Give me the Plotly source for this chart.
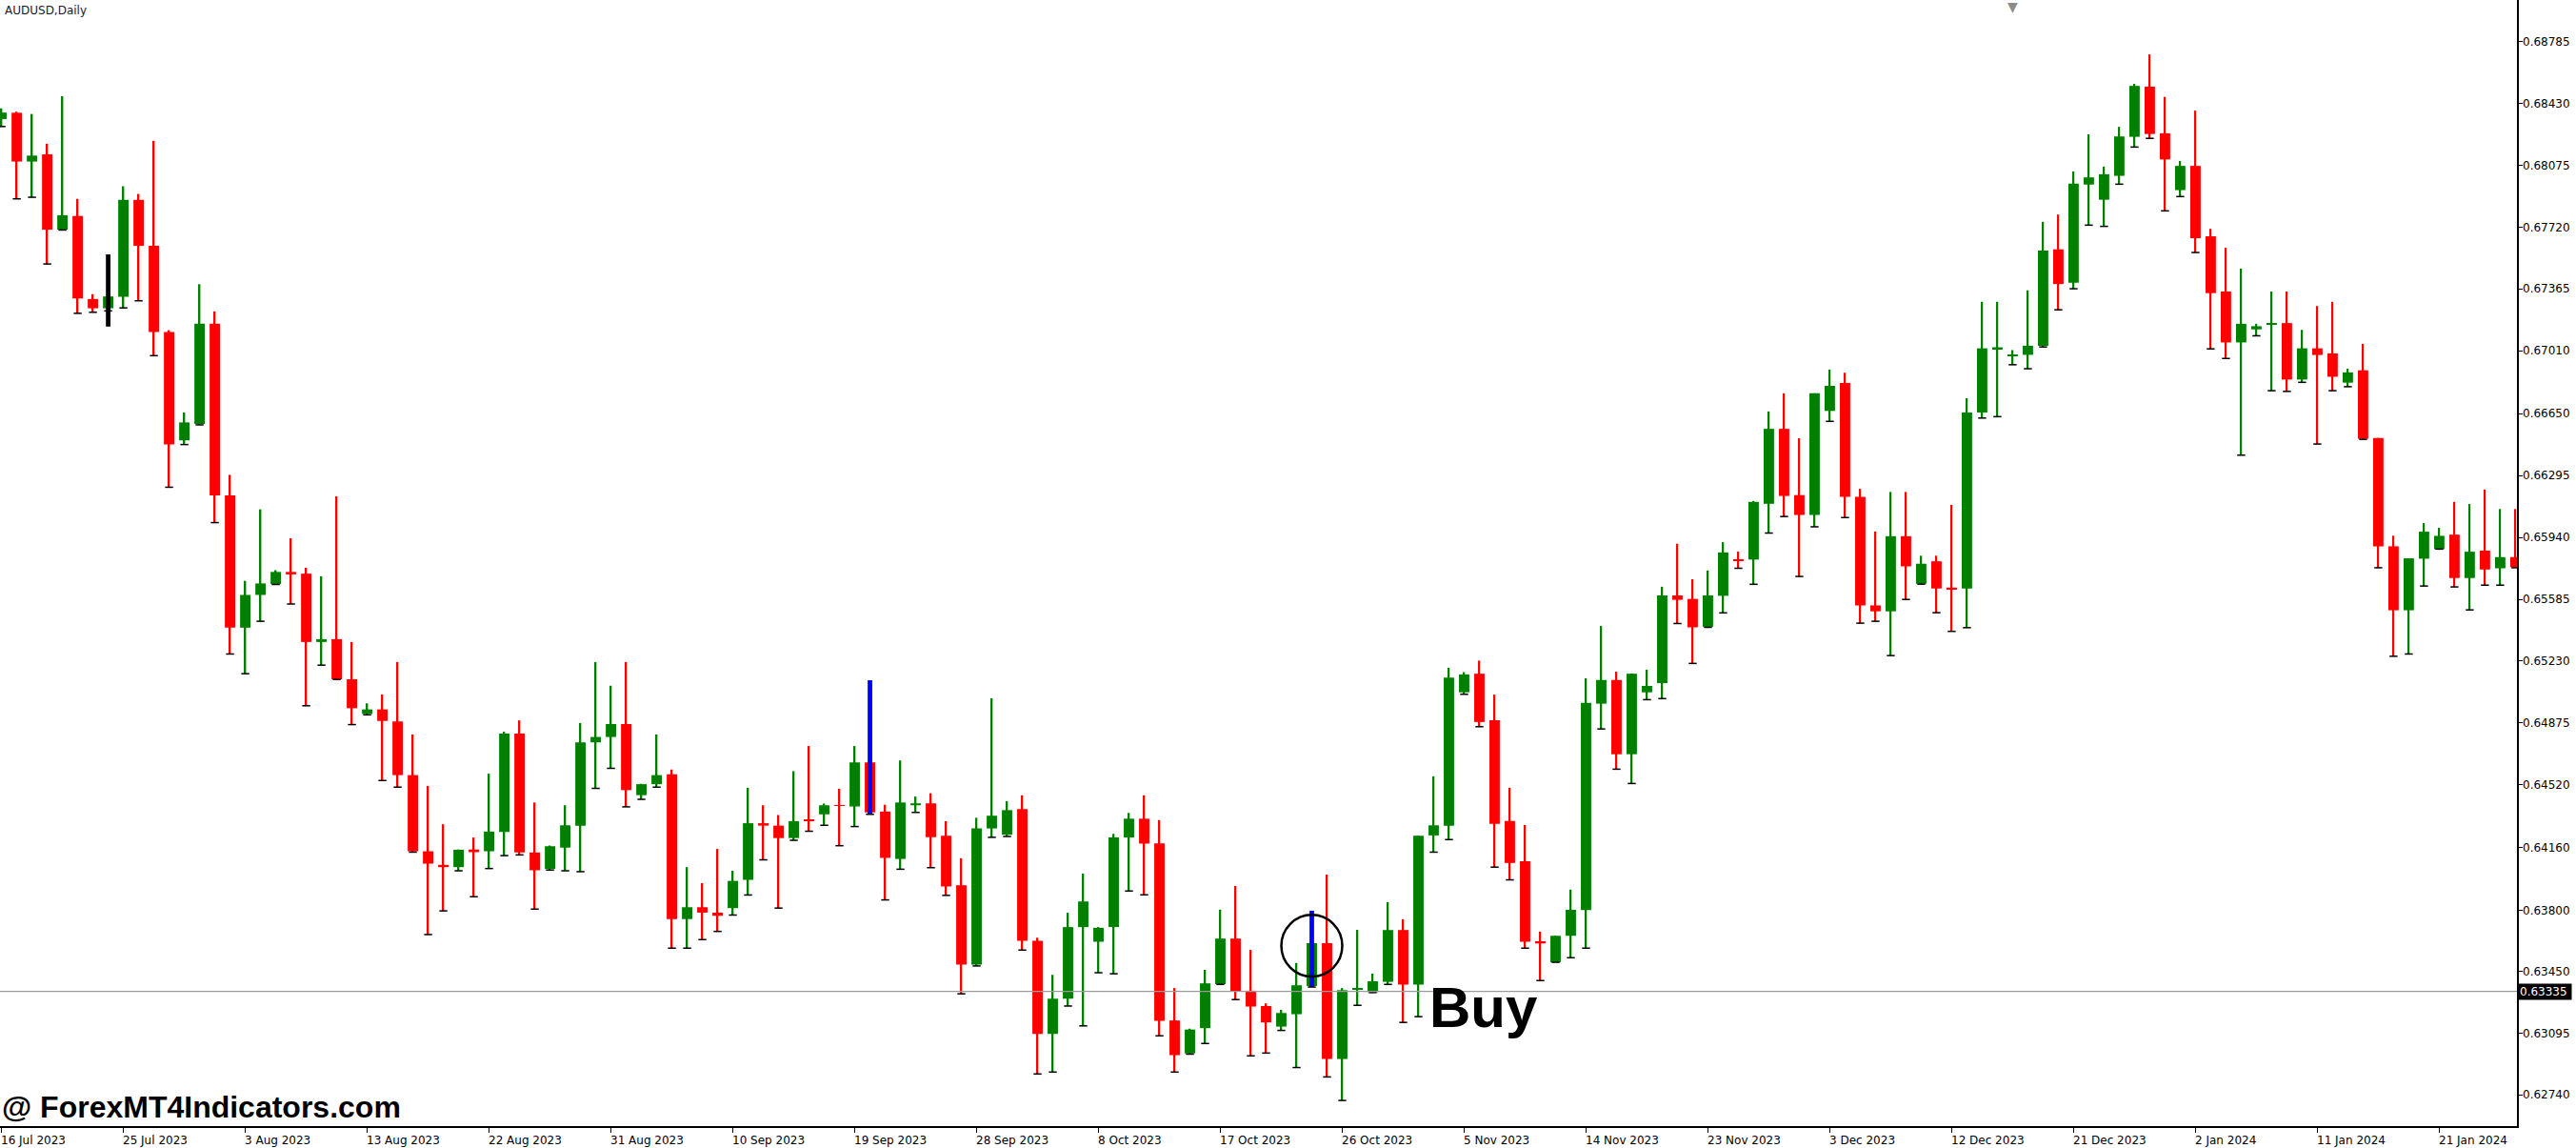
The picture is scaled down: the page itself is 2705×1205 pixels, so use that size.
import plotly.graph_objects as go

opens = [0.68341,0.68377,0.68097,0.68138,0.67706,0.67784,0.67308,0.67255,0.67321,0.67877,
0.67613,0.67119,0.66497,0.66591,0.67166,0.66181,0.65422,0.65610,0.65672,0.65742,
0.65732,0.65340,0.65356,0.65126,0.64927,0.64953,0.64884,0.64576,0.64139,0.64061,
0.64048,0.64149,0.64139,0.64250,0.64814,0.64132,0.64037,0.64160,0.64286,0.64764,
0.64795,0.64869,0.64461,0.64524,0.64581,0.63750,0.63818,0.63787,0.63813,0.63975,
0.64300,0.64286,0.64215,0.64320,0.64351,0.64403,0.64396,0.64649,0.64367,0.64095,
0.64403,0.64414,0.64228,0.63944,0.63489,0.64270,0.64234,0.64381,0.63626,0.63091,
0.63293,0.63704,0.63620,0.63704,0.64218,0.64326,0.64185,0.63168,0.62979,0.63124,
0.63377,0.63638,0.63339,0.63251,0.63133,0.63204,0.63366,0.63612,0.62947,0.63344,
0.63331,0.63390,0.63687,0.63374,0.64230,0.64285,0.65051,0.65158,0.64891,0.64313,
0.64082,0.63623,0.63502,0.63654,0.63801,0.64986,0.65122,0.64696,0.65051,0.65104,
0.65607,0.65587,0.65427,0.65605,0.65815,0.65813,0.66133,0.66563,0.66183,0.66069,
0.66666,0.66826,0.66173,0.65550,0.65516,0.65947,0.65674,0.65803,0.65652,0.65647,
0.66657,0.67022,0.66979,0.66988,0.67040,0.67593,0.67401,0.67965,0.67878,0.68015,
0.68239,0.68527,0.68259,0.67933,0.68072,0.67668,0.67351,0.67059,0.67134,0.67162,
0.67170,0.66846,0.67025,0.66996,0.66828,0.66899,0.66510,0.65889,0.65522,0.65818,
0.65873,0.65956,0.65707,0.65864,0.65763,0.65827]

highs = [0.68402,0.68383,0.68370,0.68199,0.68472,0.67883,0.67336,0.67340,0.67955,0.67911,
0.68216,0.67129,0.66657,0.67393,0.67237,0.66299,0.65691,0.66101,0.65752,0.65935,
0.65766,0.65717,0.66176,0.65340,0.64988,0.65039,0.65225,0.64809,0.64514,0.64294,
0.64149,0.64218,0.64584,0.64825,0.64890,0.64419,0.64172,0.64403,0.64875,0.65225,
0.65089,0.65225,0.64526,0.64809,0.64608,0.64048,0.63956,0.64152,0.64027,0.64503,
0.64403,0.64347,0.64599,0.64743,0.64413,0.64498,0.64743,0.64658,0.64406,0.64660,
0.64453,0.64472,0.64312,0.64099,0.64331,0.65017,0.64427,0.64460,0.63643,0.63430,
0.63786,0.64011,0.63704,0.64239,0.64359,0.64460,0.64318,0.63354,0.63121,0.63459,
0.63804,0.63940,0.63573,0.63266,0.63229,0.63498,0.63612,0.64005,0.63354,0.63688,
0.63437,0.63847,0.63749,0.64228,0.64569,0.65192,0.65167,0.65233,0.65038,0.64503,
0.64290,0.63678,0.63654,0.63919,0.65131,0.65432,0.65170,0.65158,0.65181,0.65657,
0.65904,0.65700,0.65750,0.65913,0.65858,0.66149,0.66663,0.66767,0.66509,0.66767,
0.66903,0.66885,0.66219,0.65974,0.66201,0.66201,0.65835,0.65835,0.66127,0.66739,
0.67292,0.67292,0.67015,0.67358,0.67751,0.67793,0.68040,0.68253,0.68068,0.68296,
0.68543,0.68712,0.68468,0.68100,0.68389,0.67711,0.67602,0.67483,0.67166,0.67351,
0.67351,0.67131,0.67268,0.67292,0.66908,0.67051,0.66511,0.65950,0.65820,0.66022,
0.65995,0.66144,0.66132,0.66215,0.66103,0.66103]

lows = [0.68298,0.67883,0.67892,0.67509,0.67704,0.67226,0.67232,0.67240,0.67257,0.67298,
0.66983,0.66228,0.66473,0.66586,0.66025,0.65271,0.65158,0.65459,0.65670,0.65558,
0.64974,0.65207,0.65125,0.64866,0.64922,0.64545,0.64507,0.64134,0.63661,0.63797,
0.64027,0.63878,0.64040,0.64114,0.64118,0.63807,0.64031,0.64027,0.64022,0.64500,
0.64615,0.64394,0.64437,0.64507,0.63583,0.63583,0.63632,0.63679,0.63773,0.63888,
0.64090,0.63813,0.64202,0.64254,0.64288,0.64171,0.64281,0.64351,0.63860,0.64036,
0.64362,0.64045,0.63886,0.63321,0.63481,0.64219,0.64224,0.63572,0.62861,0.62872,
0.63251,0.63137,0.63442,0.63436,0.63911,0.63889,0.63080,0.62872,0.62975,0.63036,
0.63375,0.63288,0.62965,0.62981,0.63111,0.62898,0.63360,0.62844,0.62709,0.63255,
0.63328,0.63375,0.63157,0.63190,0.64134,0.64206,0.65040,0.64854,0.64048,0.63975,
0.63583,0.63397,0.63502,0.63528,0.63583,0.64841,0.64610,0.64528,0.65009,0.65015,
0.65446,0.65217,0.65424,0.65507,0.65763,0.65671,0.65965,0.66060,0.65716,0.66001,
0.66606,0.66054,0.65448,0.65459,0.65262,0.65584,0.65672,0.65508,0.65401,0.65422,
0.66625,0.66633,0.66931,0.66908,0.67033,0.67246,0.67367,0.67732,0.67725,0.67967,
0.68180,0.68230,0.67814,0.67896,0.67575,0.67022,0.66967,0.66412,0.67097,0.66782,
0.66778,0.66830,0.66476,0.66782,0.66805,0.66503,0.65766,0.65258,0.65271,0.65661,
0.65873,0.65656,0.65524,0.65666,0.65666,0.65766]

closes = [0.68378,0.68097,0.68131,0.67706,0.67789,0.67311,0.67255,0.67323,0.67877,0.67613,
0.67119,0.66473,0.66600,0.67166,0.66181,0.65422,0.65610,0.65676,0.65742,0.65728,
0.65340,0.65356,0.65126,0.64960,0.64953,0.64887,0.64576,0.64139,0.64068,0.64048,
0.64148,0.64134,0.64252,0.64814,0.64132,0.64030,0.64168,0.64288,0.64764,0.64795,
0.64869,0.64490,0.64524,0.64576,0.63750,0.63818,0.63787,0.63769,0.63969,0.64300,
0.64286,0.64215,0.64312,0.64315,0.64403,0.64399,0.64649,0.64362,0.64101,0.64419,
0.64414,0.64220,0.63937,0.63489,0.64271,0.64343,0.64375,0.63626,0.63091,0.63293,
0.63704,0.63851,0.63700,0.64219,0.64326,0.64183,0.63166,0.62969,0.63116,0.63381,
0.63638,0.63335,0.63248,0.63157,0.63211,0.63370,0.63612,0.62947,0.63342,0.63350,
0.63393,0.63687,0.63374,0.64228,0.64288,0.65135,0.65154,0.64881,0.64297,0.64072,
0.63620,0.63610,0.63654,0.63803,0.64991,0.65122,0.64696,0.65158,0.65088,0.65607,
0.65582,0.65424,0.65607,0.65854,0.65807,0.66144,0.66563,0.66178,0.66069,0.66767,
0.66810,0.66173,0.65550,0.65516,0.65947,0.65774,0.65789,0.65647,0.65642,0.66657,
0.67025,0.67031,0.66990,0.67040,0.67586,0.67394,0.67970,0.68006,0.68024,0.68241,
0.68531,0.68255,0.68109,0.68072,0.67657,0.67342,0.67059,0.67166,0.67152,0.67170,
0.66846,0.67025,0.66987,0.66862,0.66887,0.66506,0.65889,0.65522,0.65820,0.65973,
0.65949,0.65707,0.65858,0.65756,0.65827,0.65769]

date_labels = ["16 Jul 2023","25 Jul 2023","3 Aug 2023","13 Aug 2023","22 Aug 2023",
"31 Aug 2023","10 Sep 2023","19 Sep 2023","28 Sep 2023","8 Oct 2023","17 Oct 2023",
"26 Oct 2023","5 Nov 2023","14 Nov 2023","23 Nov 2023","3 Dec 2023","12 Dec 2023",
"21 Dec 2023","2 Jan 2024","11 Jan 2024","21 Jan 2024"]
date_idx = [8 * i for i in range(len(date_labels))]

price_ticks = [0.68785,0.68430,0.68075,0.67720,0.67365,0.67010,0.66650,0.66295,0.65940,
0.65585,0.65230,0.64875,0.64520,0.64160,0.63800,0.63450,0.63095,0.62740]

# indicator signals (bar index, top, bottom, colour)
signals = [(7, 0.67564, 0.67150, "black"), (57, 0.65120, 0.64354, "#0000FF"), (86, 0.63798, 0.63360, "#0000FF")]
buy_bar = 86
price_line = 0.63335

GREEN = "#008000"
RED = "#FF0000"
FONT = "DejaVu Sans"
n = len(opens)
xs = list(range(n))
cols = [GREEN if c > o else RED for o, c in zip(opens, closes)]

fig = go.Figure()
fig.add_trace(go.Bar(x=xs, base=lows, y=[h - l for h, l in zip(highs, lows)], width=0.1,
                     marker=dict(color=cols, line=dict(width=0)), hoverinfo="skip"))
fig.add_trace(go.Scatter(x=xs, y=lows, mode="markers",
                         marker=dict(symbol="line-ew", size=6, line=dict(width=1.5, color="black")),
                         hoverinfo="skip"))
fig.add_trace(go.Bar(x=xs, base=[min(o, c) for o, c in zip(opens, closes)],
                     y=[max(abs(o - c), 0.00005) for o, c in zip(opens, closes)], width=0.68,
                     marker=dict(color=cols, line=dict(width=0))))
for b, top, bot, col in signals:
    fig.add_trace(go.Bar(x=[b], base=[bot], y=[top - bot], width=0.3,
                         marker=dict(color=col, line=dict(width=0))))

fig.add_hline(y=price_line, line=dict(color="#9A9A9A", width=1.2))
cy = closes[buy_bar] - 0.00015
fig.add_shape(type="circle", xref="x", yref="y", x0=buy_bar - 2.0, x1=buy_bar + 2.0,
              y0=cy - 0.00177, y1=cy + 0.00177, line=dict(color="black", width=2.5))

anns = []
for i, t in zip(date_idx, date_labels):
    anns.append(dict(x=i - 0.1, y=0, xref="x", yref="paper", text=t, showarrow=False,
                     xanchor="left", yanchor="bottom", yshift=-23, borderpad=0,
                     font=dict(size=12, color="black", family=FONT)))
for v in price_ticks:
    anns.append(dict(x=1, y=v, xref="paper", yref="y", text=f"{v:.5f}", showarrow=False,
                     xanchor="left", xshift=5, borderpad=0,
                     font=dict(size=12, color="black", family=FONT)))
anns.append(dict(x=1, y=price_line, xref="paper", yref="y", text="0.63335 ", showarrow=False,
                 xanchor="left", xshift=1, bgcolor="black", borderpad=1,
                 font=dict(size=12, color="white", family=FONT)))
anns.append(dict(x=93.6, y=0.6324, xref="x", yref="y", text="<b>Buy</b>", showarrow=False,
                 xanchor="left", yanchor="middle", font=dict(size=60, color="black", family="Liberation Sans")))
anns.append(dict(x=0, y=0.017, xref="paper", yref="paper", text="<b>@ ForexMT4Indicators.com</b>",
                 showarrow=False, xanchor="left", yanchor="middle",
                 font=dict(size=32, color="black", family="Liberation Sans")))
anns.append(dict(x=0.001, y=1, xref="paper", yref="paper", text="AUDUSD,Daily", showarrow=False,
                 xanchor="left", yanchor="top", yshift=-2,
                 font=dict(size=12, color="#1a1a2e", family=FONT)))
anns.append(dict(x=0.7995, y=1, xref="paper", yref="paper", text="▼", showarrow=False,
                 xanchor="center", yanchor="top", yshift=2, borderpad=0,
                 font=dict(size=14, color="#8c8c8c", family=FONT)))

fig.update_layout(
    width=2705, height=1205, margin=dict(l=0, r=62, t=0, b=23),
    paper_bgcolor="white", plot_bgcolor="white", showlegend=False,
    barmode="overlay", annotations=anns,
    xaxis=dict(range=[-0.1, 165.1], showgrid=False, zeroline=False, showticklabels=False,
               tickvals=date_idx, ticks="outside", ticklen=5, tickcolor="black",
               showline=True, linecolor="black", linewidth=1.5),
    yaxis=dict(range=[0.62562, 0.69024], side="right", showgrid=False, zeroline=False,
               tickvals=price_ticks, showticklabels=False,
               ticks="outside", ticklen=4, tickcolor="black",
               showline=True, linecolor="black", linewidth=1.5),
)
fig.write_html("out.html", config={"displayModeBar": False})

with open("out.html", encoding="utf-8") as fh:
    html = fh.read()
html = html.replace("<head>", "<head><style>html,body{margin:0;padding:0;overflow:hidden;}</style>", 1)
with open("out.html", "w", encoding="utf-8") as fh:
    fh.write(html)
